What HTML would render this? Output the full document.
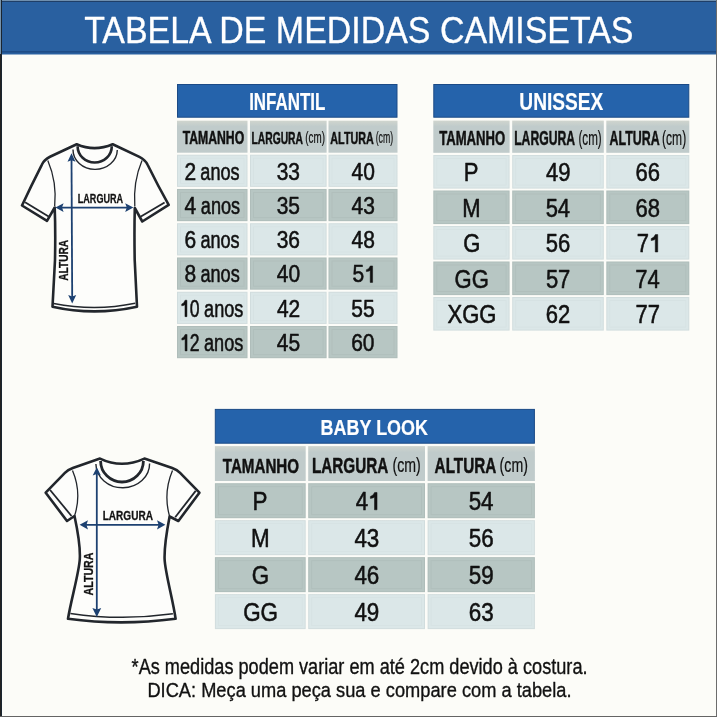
<!DOCTYPE html>
<html><head><meta charset="utf-8"><title>Tabela de Medidas Camisetas</title>
<style>
html,body{margin:0;padding:0;background:#fcfcf8;}
body{width:717px;height:717px;overflow:hidden;}
svg{display:block;font-family:"Liberation Sans",sans-serif;will-change:transform;}
</style></head><body>
<svg width="717" height="717" viewBox="0 0 717 717">
<defs>
<linearGradient id="gh" x1="0" y1="0" x2="0" y2="1"><stop offset="0" stop-color="#d0d5ce"/><stop offset="0.18" stop-color="#c0cbcb"/><stop offset="1" stop-color="#c0cbcb"/></linearGradient>
<linearGradient id="gl" x1="0" y1="0" x2="0" y2="1"><stop offset="0" stop-color="#dbe7e8"/><stop offset="1" stop-color="#dbe7e8"/></linearGradient>
<linearGradient id="gd" x1="0" y1="0" x2="0" y2="1"><stop offset="0" stop-color="#b7c6c3"/><stop offset="1" stop-color="#b7c6c3"/></linearGradient>
</defs>
<rect x="0" y="0" width="717" height="717" fill="#fcfcf8"/>
<rect x="0" y="0" width="717" height="54.5" fill="#2960a0"/>
<rect x="0" y="51" width="717" height="1.6" fill="#1e4c86"/>
<rect x="0" y="0" width="717" height="1" fill="#6f8fae"/>
<rect x="0" y="1" width="717" height="1" fill="#1f3f68"/>
<text transform="translate(84.136 42.6) scale(0.94086 1)" font-size="36.073" font-weight="normal" fill="#ffffff" stroke="#ffffff" stroke-width="0.3" stroke-linejoin="round">TABELA DE MEDIDAS CAMISETAS</text>
<rect x="177.5" y="84.5" width="219.5" height="32.7" fill="#2563ab" stroke="#1b4a86" stroke-width="1"/>
<text transform="translate(249.158 109.9) scale(0.69665 1)" font-size="24.291" font-weight="bold" fill="#ffffff" stroke="#ffffff" stroke-width="0.2" stroke-linejoin="round">INFANTIL</text>
<rect x="177" y="120.7" width="70.5" height="32" fill="url(#gh)"/>
<rect x="250" y="120.7" width="76.6" height="32" fill="url(#gh)"/>
<rect x="328.5" y="120.7" width="69" height="32" fill="url(#gh)"/>
<rect x="177" y="154.7" width="70.5" height="32.2" fill="url(#gl)"/>
<rect x="177.5" y="155.2" width="69.5" height="31.2" fill="none" stroke="#000" stroke-opacity="0.045"/>
<rect x="180.5" y="158.2" width="63.5" height="25.2" fill="none" stroke="#000" stroke-opacity="0.02"/>
<rect x="250" y="154.7" width="76.6" height="32.2" fill="url(#gl)"/>
<rect x="250.5" y="155.2" width="75.6" height="31.2" fill="none" stroke="#000" stroke-opacity="0.045"/>
<rect x="253.5" y="158.2" width="69.6" height="25.2" fill="none" stroke="#000" stroke-opacity="0.02"/>
<rect x="328.5" y="154.7" width="69" height="32.2" fill="url(#gl)"/>
<rect x="329" y="155.2" width="68" height="31.2" fill="none" stroke="#000" stroke-opacity="0.045"/>
<rect x="332" y="158.2" width="62" height="25.2" fill="none" stroke="#000" stroke-opacity="0.02"/>
<rect x="177" y="188.96" width="70.5" height="32.2" fill="url(#gd)"/>
<rect x="177.5" y="189.46" width="69.5" height="31.2" fill="none" stroke="#000" stroke-opacity="0.045"/>
<rect x="180.5" y="192.46" width="63.5" height="25.2" fill="none" stroke="#000" stroke-opacity="0.035"/>
<rect x="250" y="188.96" width="76.6" height="32.2" fill="url(#gd)"/>
<rect x="250.5" y="189.46" width="75.6" height="31.2" fill="none" stroke="#000" stroke-opacity="0.045"/>
<rect x="253.5" y="192.46" width="69.6" height="25.2" fill="none" stroke="#000" stroke-opacity="0.035"/>
<rect x="328.5" y="188.96" width="69" height="32.2" fill="url(#gd)"/>
<rect x="329" y="189.46" width="68" height="31.2" fill="none" stroke="#000" stroke-opacity="0.045"/>
<rect x="332" y="192.46" width="62" height="25.2" fill="none" stroke="#000" stroke-opacity="0.035"/>
<rect x="177" y="223.22" width="70.5" height="32.2" fill="url(#gl)"/>
<rect x="177.5" y="223.72" width="69.5" height="31.2" fill="none" stroke="#000" stroke-opacity="0.045"/>
<rect x="180.5" y="226.72" width="63.5" height="25.2" fill="none" stroke="#000" stroke-opacity="0.02"/>
<rect x="250" y="223.22" width="76.6" height="32.2" fill="url(#gl)"/>
<rect x="250.5" y="223.72" width="75.6" height="31.2" fill="none" stroke="#000" stroke-opacity="0.045"/>
<rect x="253.5" y="226.72" width="69.6" height="25.2" fill="none" stroke="#000" stroke-opacity="0.02"/>
<rect x="328.5" y="223.22" width="69" height="32.2" fill="url(#gl)"/>
<rect x="329" y="223.72" width="68" height="31.2" fill="none" stroke="#000" stroke-opacity="0.045"/>
<rect x="332" y="226.72" width="62" height="25.2" fill="none" stroke="#000" stroke-opacity="0.02"/>
<rect x="177" y="257.48" width="70.5" height="32.2" fill="url(#gd)"/>
<rect x="177.5" y="257.98" width="69.5" height="31.2" fill="none" stroke="#000" stroke-opacity="0.045"/>
<rect x="180.5" y="260.98" width="63.5" height="25.2" fill="none" stroke="#000" stroke-opacity="0.035"/>
<rect x="250" y="257.48" width="76.6" height="32.2" fill="url(#gd)"/>
<rect x="250.5" y="257.98" width="75.6" height="31.2" fill="none" stroke="#000" stroke-opacity="0.045"/>
<rect x="253.5" y="260.98" width="69.6" height="25.2" fill="none" stroke="#000" stroke-opacity="0.035"/>
<rect x="328.5" y="257.48" width="69" height="32.2" fill="url(#gd)"/>
<rect x="329" y="257.98" width="68" height="31.2" fill="none" stroke="#000" stroke-opacity="0.045"/>
<rect x="332" y="260.98" width="62" height="25.2" fill="none" stroke="#000" stroke-opacity="0.035"/>
<rect x="177" y="291.74" width="70.5" height="32.2" fill="url(#gl)"/>
<rect x="177.5" y="292.24" width="69.5" height="31.2" fill="none" stroke="#000" stroke-opacity="0.045"/>
<rect x="180.5" y="295.24" width="63.5" height="25.2" fill="none" stroke="#000" stroke-opacity="0.02"/>
<rect x="250" y="291.74" width="76.6" height="32.2" fill="url(#gl)"/>
<rect x="250.5" y="292.24" width="75.6" height="31.2" fill="none" stroke="#000" stroke-opacity="0.045"/>
<rect x="253.5" y="295.24" width="69.6" height="25.2" fill="none" stroke="#000" stroke-opacity="0.02"/>
<rect x="328.5" y="291.74" width="69" height="32.2" fill="url(#gl)"/>
<rect x="329" y="292.24" width="68" height="31.2" fill="none" stroke="#000" stroke-opacity="0.045"/>
<rect x="332" y="295.24" width="62" height="25.2" fill="none" stroke="#000" stroke-opacity="0.02"/>
<rect x="177" y="326" width="70.5" height="32.2" fill="url(#gd)"/>
<rect x="177.5" y="326.5" width="69.5" height="31.2" fill="none" stroke="#000" stroke-opacity="0.045"/>
<rect x="180.5" y="329.5" width="63.5" height="25.2" fill="none" stroke="#000" stroke-opacity="0.035"/>
<rect x="250" y="326" width="76.6" height="32.2" fill="url(#gd)"/>
<rect x="250.5" y="326.5" width="75.6" height="31.2" fill="none" stroke="#000" stroke-opacity="0.045"/>
<rect x="253.5" y="329.5" width="69.6" height="25.2" fill="none" stroke="#000" stroke-opacity="0.035"/>
<rect x="328.5" y="326" width="69" height="32.2" fill="url(#gd)"/>
<rect x="329" y="326.5" width="68" height="31.2" fill="none" stroke="#000" stroke-opacity="0.045"/>
<rect x="332" y="329.5" width="62" height="25.2" fill="none" stroke="#000" stroke-opacity="0.035"/>
<text transform="translate(182.678 143.8) scale(0.68318 1)" font-size="17.891" font-weight="bold" fill="#111111" stroke="#111111" stroke-width="0.5" stroke-linejoin="round">TAMANHO</text>
<text transform="translate(251.505 143.6) scale(0.59481 1)" font-size="17.309" font-weight="bold" fill="#111111" stroke="#111111" stroke-width="0.5" stroke-linejoin="round">LARGURA</text>
<text transform="translate(305.286 143.44) scale(0.60683 1)" font-size="16.193" font-weight="normal" fill="#111111" stroke="#111111" stroke-width="0.2" stroke-linejoin="round">(cm)</text>
<text transform="translate(330.331 143.6) scale(0.62195 1)" font-size="17.309" font-weight="bold" fill="#111111" stroke="#111111" stroke-width="0.5" stroke-linejoin="round">ALTURA</text>
<text transform="translate(375.653 143.44) scale(0.54087 1)" font-size="16.193" font-weight="normal" fill="#111111" stroke="#111111" stroke-width="0.2" stroke-linejoin="round">(cm)</text>
<text transform="translate(184.479 179.6) scale(0.88 1)" font-size="23.855" font-weight="normal" fill="#111111" stroke="#111111" stroke-width="0.55" stroke-linejoin="round">2</text><text transform="translate(200.31 179.6) scale(0.76 1)" font-size="23.855" font-weight="normal" fill="#111111" stroke="#111111" stroke-width="0.55" stroke-linejoin="round">anos</text>
<text transform="translate(276.69 179.6) scale(0.88 1)" font-size="23.855" font-weight="normal" fill="#111111" stroke="#111111" stroke-width="0.55" stroke-linejoin="round">33</text>
<text transform="translate(351.495 179.6) scale(0.88 1)" font-size="23.855" font-weight="normal" fill="#111111" stroke="#111111" stroke-width="0.55" stroke-linejoin="round">40</text>
<text transform="translate(184.532 213.86) scale(0.88 1)" font-size="23.855" font-weight="normal" fill="#111111" stroke="#111111" stroke-width="0.55" stroke-linejoin="round">4</text><text transform="translate(200.835 213.86) scale(0.76 1)" font-size="23.855" font-weight="normal" fill="#111111" stroke="#111111" stroke-width="0.55" stroke-linejoin="round">anos</text>
<text transform="translate(276.663 213.86) scale(0.88 1)" font-size="23.855" font-weight="normal" fill="#111111" stroke="#111111" stroke-width="0.55" stroke-linejoin="round">35</text>
<text transform="translate(351.547 213.86) scale(0.88 1)" font-size="23.855" font-weight="normal" fill="#111111" stroke="#111111" stroke-width="0.55" stroke-linejoin="round">43</text>
<text transform="translate(184.401 248.12) scale(0.88 1)" font-size="23.855" font-weight="normal" fill="#111111" stroke="#111111" stroke-width="0.55" stroke-linejoin="round">6</text><text transform="translate(200.389 248.12) scale(0.76 1)" font-size="23.855" font-weight="normal" fill="#111111" stroke="#111111" stroke-width="0.55" stroke-linejoin="round">anos</text>
<text transform="translate(276.69 248.12) scale(0.88 1)" font-size="23.855" font-weight="normal" fill="#111111" stroke="#111111" stroke-width="0.55" stroke-linejoin="round">36</text>
<text transform="translate(351.547 248.12) scale(0.88 1)" font-size="23.855" font-weight="normal" fill="#111111" stroke="#111111" stroke-width="0.55" stroke-linejoin="round">48</text>
<text transform="translate(184.479 282.38) scale(0.88 1)" font-size="23.855" font-weight="normal" fill="#111111" stroke="#111111" stroke-width="0.55" stroke-linejoin="round">8</text><text transform="translate(200.467 282.38) scale(0.76 1)" font-size="23.855" font-weight="normal" fill="#111111" stroke="#111111" stroke-width="0.55" stroke-linejoin="round">anos</text>
<text transform="translate(276.795 282.38) scale(0.88 1)" font-size="23.855" font-weight="normal" fill="#111111" stroke="#111111" stroke-width="0.55" stroke-linejoin="round">40</text>
<text transform="translate(352.581 282.38) scale(0.88 1)" font-size="23.855" font-weight="normal" fill="#111111" stroke="#111111" stroke-width="0.55" stroke-linejoin="round">5</text><path transform="translate(364.256 282.38) scale(0.01025 -0.01165)" d="M812,0 L582,0 L582,1030 Q470,955 205,925 L205,1085 Q470,1135 592,1409 L812,1409 Z" fill="#111111" stroke="#111111" stroke-width="47.22" stroke-linejoin="round"/>
<path transform="translate(179.956 316.64) scale(0.00861 -0.01165)" d="M812,0 L582,0 L582,1030 Q470,955 205,925 L205,1085 Q470,1135 592,1409 L812,1409 Z" fill="#111111" stroke="#111111" stroke-width="47.22" stroke-linejoin="round"/><text transform="translate(189.763 316.64) scale(0.7392 1)" font-size="23.855" font-weight="normal" fill="#111111" stroke="#111111" stroke-width="0.55" stroke-linejoin="round">0</text><text transform="translate(204.118 316.64) scale(0.76 1)" font-size="23.855" font-weight="normal" fill="#111111" stroke="#111111" stroke-width="0.55" stroke-linejoin="round">anos</text>
<text transform="translate(276.926 316.64) scale(0.88 1)" font-size="23.855" font-weight="normal" fill="#111111" stroke="#111111" stroke-width="0.55" stroke-linejoin="round">42</text>
<text transform="translate(351.337 316.64) scale(0.88 1)" font-size="23.855" font-weight="normal" fill="#111111" stroke="#111111" stroke-width="0.55" stroke-linejoin="round">55</text>
<path transform="translate(180.066 350.9) scale(0.00861 -0.01165)" d="M812,0 L582,0 L582,1030 Q470,955 205,925 L205,1085 Q470,1135 592,1409 L812,1409 Z" fill="#111111" stroke="#111111" stroke-width="47.22" stroke-linejoin="round"/><text transform="translate(189.873 350.9) scale(0.7392 1)" font-size="23.855" font-weight="normal" fill="#111111" stroke="#111111" stroke-width="0.55" stroke-linejoin="round">2</text><text transform="translate(204.008 350.9) scale(0.76 1)" font-size="23.855" font-weight="normal" fill="#111111" stroke="#111111" stroke-width="0.55" stroke-linejoin="round">anos</text>
<text transform="translate(276.821 350.9) scale(0.88 1)" font-size="23.855" font-weight="normal" fill="#111111" stroke="#111111" stroke-width="0.55" stroke-linejoin="round">45</text>
<text transform="translate(351.206 350.9) scale(0.88 1)" font-size="23.855" font-weight="normal" fill="#111111" stroke="#111111" stroke-width="0.55" stroke-linejoin="round">60</text>
<rect x="433.8" y="84.5" width="255" height="32.7" fill="#2563ab" stroke="#1b4a86" stroke-width="1"/>
<text transform="translate(519.351 110.1) scale(0.77419 1)" font-size="24.727" font-weight="bold" fill="#ffffff" stroke="#ffffff" stroke-width="0.2" stroke-linejoin="round">UNISSEX</text>
<rect x="433.3" y="120.6" width="76.3" height="32.2" fill="url(#gh)"/>
<rect x="512.2" y="120.6" width="91.6" height="32.2" fill="url(#gh)"/>
<rect x="606.3" y="120.6" width="83" height="32.2" fill="url(#gh)"/>
<rect x="433.3" y="155" width="76.3" height="33.6" fill="url(#gl)"/>
<rect x="433.8" y="155.5" width="75.3" height="32.6" fill="none" stroke="#000" stroke-opacity="0.045"/>
<rect x="436.8" y="158.5" width="69.3" height="26.6" fill="none" stroke="#000" stroke-opacity="0.02"/>
<rect x="512.2" y="155" width="91.6" height="33.6" fill="url(#gl)"/>
<rect x="512.7" y="155.5" width="90.6" height="32.6" fill="none" stroke="#000" stroke-opacity="0.045"/>
<rect x="515.7" y="158.5" width="84.6" height="26.6" fill="none" stroke="#000" stroke-opacity="0.02"/>
<rect x="606.3" y="155" width="83" height="33.6" fill="url(#gl)"/>
<rect x="606.8" y="155.5" width="82" height="32.6" fill="none" stroke="#000" stroke-opacity="0.045"/>
<rect x="609.8" y="158.5" width="76" height="26.6" fill="none" stroke="#000" stroke-opacity="0.02"/>
<rect x="433.3" y="190.5" width="76.3" height="33.6" fill="url(#gd)"/>
<rect x="433.8" y="191" width="75.3" height="32.6" fill="none" stroke="#000" stroke-opacity="0.045"/>
<rect x="436.8" y="194" width="69.3" height="26.6" fill="none" stroke="#000" stroke-opacity="0.035"/>
<rect x="512.2" y="190.5" width="91.6" height="33.6" fill="url(#gd)"/>
<rect x="512.7" y="191" width="90.6" height="32.6" fill="none" stroke="#000" stroke-opacity="0.045"/>
<rect x="515.7" y="194" width="84.6" height="26.6" fill="none" stroke="#000" stroke-opacity="0.035"/>
<rect x="606.3" y="190.5" width="83" height="33.6" fill="url(#gd)"/>
<rect x="606.8" y="191" width="82" height="32.6" fill="none" stroke="#000" stroke-opacity="0.045"/>
<rect x="609.8" y="194" width="76" height="26.6" fill="none" stroke="#000" stroke-opacity="0.035"/>
<rect x="433.3" y="226" width="76.3" height="33.6" fill="url(#gl)"/>
<rect x="433.8" y="226.5" width="75.3" height="32.6" fill="none" stroke="#000" stroke-opacity="0.045"/>
<rect x="436.8" y="229.5" width="69.3" height="26.6" fill="none" stroke="#000" stroke-opacity="0.02"/>
<rect x="512.2" y="226" width="91.6" height="33.6" fill="url(#gl)"/>
<rect x="512.7" y="226.5" width="90.6" height="32.6" fill="none" stroke="#000" stroke-opacity="0.045"/>
<rect x="515.7" y="229.5" width="84.6" height="26.6" fill="none" stroke="#000" stroke-opacity="0.02"/>
<rect x="606.3" y="226" width="83" height="33.6" fill="url(#gl)"/>
<rect x="606.8" y="226.5" width="82" height="32.6" fill="none" stroke="#000" stroke-opacity="0.045"/>
<rect x="609.8" y="229.5" width="76" height="26.6" fill="none" stroke="#000" stroke-opacity="0.02"/>
<rect x="433.3" y="261.5" width="76.3" height="33.6" fill="url(#gd)"/>
<rect x="433.8" y="262" width="75.3" height="32.6" fill="none" stroke="#000" stroke-opacity="0.045"/>
<rect x="436.8" y="265" width="69.3" height="26.6" fill="none" stroke="#000" stroke-opacity="0.035"/>
<rect x="512.2" y="261.5" width="91.6" height="33.6" fill="url(#gd)"/>
<rect x="512.7" y="262" width="90.6" height="32.6" fill="none" stroke="#000" stroke-opacity="0.045"/>
<rect x="515.7" y="265" width="84.6" height="26.6" fill="none" stroke="#000" stroke-opacity="0.035"/>
<rect x="606.3" y="261.5" width="83" height="33.6" fill="url(#gd)"/>
<rect x="606.8" y="262" width="82" height="32.6" fill="none" stroke="#000" stroke-opacity="0.045"/>
<rect x="609.8" y="265" width="76" height="26.6" fill="none" stroke="#000" stroke-opacity="0.035"/>
<rect x="433.3" y="297" width="76.3" height="33.6" fill="url(#gl)"/>
<rect x="433.8" y="297.5" width="75.3" height="32.6" fill="none" stroke="#000" stroke-opacity="0.045"/>
<rect x="436.8" y="300.5" width="69.3" height="26.6" fill="none" stroke="#000" stroke-opacity="0.02"/>
<rect x="512.2" y="297" width="91.6" height="33.6" fill="url(#gl)"/>
<rect x="512.7" y="297.5" width="90.6" height="32.6" fill="none" stroke="#000" stroke-opacity="0.045"/>
<rect x="515.7" y="300.5" width="84.6" height="26.6" fill="none" stroke="#000" stroke-opacity="0.02"/>
<rect x="606.3" y="297" width="83" height="33.6" fill="url(#gl)"/>
<rect x="606.8" y="297.5" width="82" height="32.6" fill="none" stroke="#000" stroke-opacity="0.045"/>
<rect x="609.8" y="300.5" width="76" height="26.6" fill="none" stroke="#000" stroke-opacity="0.02"/>
<text transform="translate(439.169 145.2) scale(0.67241 1)" font-size="19.491" font-weight="bold" fill="#111111" stroke="#111111" stroke-width="0.5" stroke-linejoin="round">TAMANHO</text>
<text transform="translate(514.177 145.2) scale(0.61181 1)" font-size="19.927" font-weight="bold" fill="#111111" stroke="#111111" stroke-width="0.5" stroke-linejoin="round">LARGURA</text>
<text transform="translate(578.472 145.35) scale(0.5965 1)" font-size="19.517" font-weight="normal" fill="#111111" stroke="#111111" stroke-width="0.2" stroke-linejoin="round">(cm)</text>
<text transform="translate(609.589 145.2) scale(0.62335 1)" font-size="19.927" font-weight="bold" fill="#111111" stroke="#111111" stroke-width="0.5" stroke-linejoin="round">ALTURA</text>
<text transform="translate(662.046 145.35) scale(0.61839 1)" font-size="19.517" font-weight="normal" fill="#111111" stroke="#111111" stroke-width="0.2" stroke-linejoin="round">(cm)</text>
<text transform="translate(463.771 181) scale(0.87 1)" font-size="25.309" font-weight="normal" fill="#111111" stroke="#111111" stroke-width="0.55" stroke-linejoin="round">P</text>
<text transform="translate(546.014 181) scale(0.87 1)" font-size="25.309" font-weight="normal" fill="#111111" stroke="#111111" stroke-width="0.55" stroke-linejoin="round">49</text>
<text transform="translate(635.484 181) scale(0.87 1)" font-size="25.309" font-weight="normal" fill="#111111" stroke="#111111" stroke-width="0.55" stroke-linejoin="round">66</text>
<text transform="translate(462.285 216.5) scale(0.87 1)" font-size="25.309" font-weight="normal" fill="#111111" stroke="#111111" stroke-width="0.55" stroke-linejoin="round">M</text>
<text transform="translate(545.629 216.5) scale(0.87 1)" font-size="25.309" font-weight="normal" fill="#111111" stroke="#111111" stroke-width="0.55" stroke-linejoin="round">54</text>
<text transform="translate(635.484 216.5) scale(0.87 1)" font-size="25.309" font-weight="normal" fill="#111111" stroke="#111111" stroke-width="0.55" stroke-linejoin="round">68</text>
<text transform="translate(463.165 252) scale(0.87 1)" font-size="25.309" font-weight="normal" fill="#111111" stroke="#111111" stroke-width="0.55" stroke-linejoin="round">G</text>
<text transform="translate(545.794 252) scale(0.87 1)" font-size="25.309" font-weight="normal" fill="#111111" stroke="#111111" stroke-width="0.55" stroke-linejoin="round">56</text>
<text transform="translate(636.761 252) scale(0.87 1)" font-size="25.309" font-weight="normal" fill="#111111" stroke="#111111" stroke-width="0.55" stroke-linejoin="round">7</text><path transform="translate(649.008 252) scale(0.01075 -0.01236)" d="M812,0 L582,0 L582,1030 Q470,955 205,925 L205,1085 Q470,1135 592,1409 L812,1409 Z" fill="#111111" stroke="#111111" stroke-width="44.506" stroke-linejoin="round"/>
<text transform="translate(454.602 287.5) scale(0.87 1)" font-size="25.309" font-weight="normal" fill="#111111" stroke="#111111" stroke-width="0.55" stroke-linejoin="round">GG</text>
<text transform="translate(545.877 287.5) scale(0.87 1)" font-size="25.309" font-weight="normal" fill="#111111" stroke="#111111" stroke-width="0.55" stroke-linejoin="round">57</text>
<text transform="translate(635.319 287.5) scale(0.87 1)" font-size="25.309" font-weight="normal" fill="#111111" stroke="#111111" stroke-width="0.55" stroke-linejoin="round">74</text>
<text transform="translate(447.561 323) scale(0.87 1)" font-size="25.309" font-weight="normal" fill="#111111" stroke="#111111" stroke-width="0.55" stroke-linejoin="round">XGG</text>
<text transform="translate(545.767 323) scale(0.87 1)" font-size="25.309" font-weight="normal" fill="#111111" stroke="#111111" stroke-width="0.55" stroke-linejoin="round">62</text>
<text transform="translate(635.567 323) scale(0.87 1)" font-size="25.309" font-weight="normal" fill="#111111" stroke="#111111" stroke-width="0.55" stroke-linejoin="round">77</text>
<rect x="215.3" y="409.4" width="319.1" height="33.8" fill="#2563ab" stroke="#1b4a86" stroke-width="1"/>
<text transform="translate(320.587 434.5) scale(0.80213 1)" font-size="22.4" font-weight="bold" fill="#ffffff" stroke="#ffffff" stroke-width="0.2" stroke-linejoin="round">BABY LOOK</text>
<rect x="214.9" y="446.1" width="90.8" height="34.9" fill="url(#gh)"/>
<rect x="308.2" y="446.1" width="116.8" height="34.9" fill="url(#gh)"/>
<rect x="427.6" y="446.1" width="107.3" height="34.9" fill="url(#gh)"/>
<rect x="214.9" y="483.2" width="90.8" height="35" fill="url(#gd)"/>
<rect x="215.4" y="483.7" width="89.8" height="34" fill="none" stroke="#000" stroke-opacity="0.045"/>
<rect x="218.4" y="486.7" width="83.8" height="28" fill="none" stroke="#000" stroke-opacity="0.035"/>
<rect x="308.2" y="483.2" width="116.8" height="35" fill="url(#gd)"/>
<rect x="308.7" y="483.7" width="115.8" height="34" fill="none" stroke="#000" stroke-opacity="0.045"/>
<rect x="311.7" y="486.7" width="109.8" height="28" fill="none" stroke="#000" stroke-opacity="0.035"/>
<rect x="427.6" y="483.2" width="107.3" height="35" fill="url(#gd)"/>
<rect x="428.1" y="483.7" width="106.3" height="34" fill="none" stroke="#000" stroke-opacity="0.045"/>
<rect x="431.1" y="486.7" width="100.3" height="28" fill="none" stroke="#000" stroke-opacity="0.035"/>
<rect x="214.9" y="520.17" width="90.8" height="35" fill="url(#gl)"/>
<rect x="215.4" y="520.67" width="89.8" height="34" fill="none" stroke="#000" stroke-opacity="0.045"/>
<rect x="218.4" y="523.67" width="83.8" height="28" fill="none" stroke="#000" stroke-opacity="0.02"/>
<rect x="308.2" y="520.17" width="116.8" height="35" fill="url(#gl)"/>
<rect x="308.7" y="520.67" width="115.8" height="34" fill="none" stroke="#000" stroke-opacity="0.045"/>
<rect x="311.7" y="523.67" width="109.8" height="28" fill="none" stroke="#000" stroke-opacity="0.02"/>
<rect x="427.6" y="520.17" width="107.3" height="35" fill="url(#gl)"/>
<rect x="428.1" y="520.67" width="106.3" height="34" fill="none" stroke="#000" stroke-opacity="0.045"/>
<rect x="431.1" y="523.67" width="100.3" height="28" fill="none" stroke="#000" stroke-opacity="0.02"/>
<rect x="214.9" y="557.14" width="90.8" height="35" fill="url(#gd)"/>
<rect x="215.4" y="557.64" width="89.8" height="34" fill="none" stroke="#000" stroke-opacity="0.045"/>
<rect x="218.4" y="560.64" width="83.8" height="28" fill="none" stroke="#000" stroke-opacity="0.035"/>
<rect x="308.2" y="557.14" width="116.8" height="35" fill="url(#gd)"/>
<rect x="308.7" y="557.64" width="115.8" height="34" fill="none" stroke="#000" stroke-opacity="0.045"/>
<rect x="311.7" y="560.64" width="109.8" height="28" fill="none" stroke="#000" stroke-opacity="0.035"/>
<rect x="427.6" y="557.14" width="107.3" height="35" fill="url(#gd)"/>
<rect x="428.1" y="557.64" width="106.3" height="34" fill="none" stroke="#000" stroke-opacity="0.045"/>
<rect x="431.1" y="560.64" width="100.3" height="28" fill="none" stroke="#000" stroke-opacity="0.035"/>
<rect x="214.9" y="594.11" width="90.8" height="35" fill="url(#gl)"/>
<rect x="215.4" y="594.61" width="89.8" height="34" fill="none" stroke="#000" stroke-opacity="0.045"/>
<rect x="218.4" y="597.61" width="83.8" height="28" fill="none" stroke="#000" stroke-opacity="0.02"/>
<rect x="308.2" y="594.11" width="116.8" height="35" fill="url(#gl)"/>
<rect x="308.7" y="594.61" width="115.8" height="34" fill="none" stroke="#000" stroke-opacity="0.045"/>
<rect x="311.7" y="597.61" width="109.8" height="28" fill="none" stroke="#000" stroke-opacity="0.02"/>
<rect x="427.6" y="594.11" width="107.3" height="35" fill="url(#gl)"/>
<rect x="428.1" y="594.61" width="106.3" height="34" fill="none" stroke="#000" stroke-opacity="0.045"/>
<rect x="431.1" y="597.61" width="100.3" height="28" fill="none" stroke="#000" stroke-opacity="0.02"/>
<text transform="translate(222.748 472.9) scale(0.71846 1)" font-size="21.091" font-weight="bold" fill="#111111" stroke="#111111" stroke-width="0.5" stroke-linejoin="round">TAMANHO</text>
<text transform="translate(311.971 472.5) scale(0.71321 1)" font-size="21.382" font-weight="bold" fill="#111111" stroke="#111111" stroke-width="0.5" stroke-linejoin="round">LARGURA</text>
<text transform="translate(392.515 472.361) scale(0.70951 1)" font-size="19.946" font-weight="normal" fill="#111111" stroke="#111111" stroke-width="0.2" stroke-linejoin="round">(cm)</text>
<text transform="translate(434.618 472.5) scale(0.71473 1)" font-size="21.382" font-weight="bold" fill="#111111" stroke="#111111" stroke-width="0.5" stroke-linejoin="round">ALTURA</text>
<text transform="translate(499.615 472.361) scale(0.70951 1)" font-size="19.946" font-weight="normal" fill="#111111" stroke="#111111" stroke-width="0.2" stroke-linejoin="round">(cm)</text>
<text transform="translate(252.49 509.8) scale(0.89 1)" font-size="25.164" font-weight="normal" fill="#111111" stroke="#111111" stroke-width="0.55" stroke-linejoin="round">P</text>
<text transform="translate(355.68 509.8) scale(0.89 1)" font-size="25.164" font-weight="normal" fill="#111111" stroke="#111111" stroke-width="0.55" stroke-linejoin="round">4</text><path transform="translate(368.136 509.8) scale(0.01094 -0.01229)" d="M812,0 L582,0 L582,1030 Q470,955 205,925 L205,1085 Q470,1135 592,1409 L812,1409 Z" fill="#111111" stroke="#111111" stroke-width="44.763" stroke-linejoin="round"/>
<text transform="translate(468.667 509.8) scale(0.89 1)" font-size="25.164" font-weight="normal" fill="#111111" stroke="#111111" stroke-width="0.55" stroke-linejoin="round">54</text>
<text transform="translate(250.978 546.77) scale(0.89 1)" font-size="25.164" font-weight="normal" fill="#111111" stroke="#111111" stroke-width="0.55" stroke-linejoin="round">M</text>
<text transform="translate(354.381 546.77) scale(0.89 1)" font-size="25.164" font-weight="normal" fill="#111111" stroke="#111111" stroke-width="0.55" stroke-linejoin="round">43</text>
<text transform="translate(468.835 546.77) scale(0.89 1)" font-size="25.164" font-weight="normal" fill="#111111" stroke="#111111" stroke-width="0.55" stroke-linejoin="round">56</text>
<text transform="translate(251.874 583.74) scale(0.89 1)" font-size="25.164" font-weight="normal" fill="#111111" stroke="#111111" stroke-width="0.55" stroke-linejoin="round">G</text>
<text transform="translate(354.381 583.74) scale(0.89 1)" font-size="25.164" font-weight="normal" fill="#111111" stroke="#111111" stroke-width="0.55" stroke-linejoin="round">46</text>
<text transform="translate(468.863 583.74) scale(0.89 1)" font-size="25.164" font-weight="normal" fill="#111111" stroke="#111111" stroke-width="0.55" stroke-linejoin="round">59</text>
<text transform="translate(243.163 620.71) scale(0.89 1)" font-size="25.164" font-weight="normal" fill="#111111" stroke="#111111" stroke-width="0.55" stroke-linejoin="round">GG</text>
<text transform="translate(354.409 620.71) scale(0.89 1)" font-size="25.164" font-weight="normal" fill="#111111" stroke="#111111" stroke-width="0.55" stroke-linejoin="round">49</text>
<text transform="translate(468.723 620.71) scale(0.89 1)" font-size="25.164" font-weight="normal" fill="#111111" stroke="#111111" stroke-width="0.55" stroke-linejoin="round">63</text>
<path d="M76.7,144.3 L50,156.8 Q44.2,159.6 41.8,164.8 Q31,186 22,205.5 L47,220.8 L54.7,207.5 Q55.6,230 55,260 L52.5,306.7 Q94,316 137,306.7 L134.7,260 Q134.2,230 134.8,208 L142.3,221.5 L168.7,204.8 Q158,186 147.6,164.8 Q145.2,159.6 139.4,156.8 L112.7,144.3 Q94.3,152 76.7,144.3 Z" fill="#fdfdfb" stroke="#22262c" stroke-width="2.6" stroke-linejoin="round"/>
<path d="M47.8,160.5 Q57,182 54.7,206" fill="none" stroke="#22262c" stroke-width="1.3"/>
<path d="M142,160.5 Q133,182 134.8,206.5" fill="none" stroke="#22262c" stroke-width="1.3"/>
<path d="M25.1,202.3 L48.6,216.5" fill="none" stroke="#22262c" stroke-width="1.8"/>
<path d="M164.6,202.4 L140.9,216.6" fill="none" stroke="#22262c" stroke-width="1.8"/>
<path d="M53.6,303.4 Q95,311.5 135.2,303.2" fill="none" stroke="#22262c" stroke-width="1.5"/>
<path d="M77.6,146.2 A16.8 16 0 0 0 111.8,146.2" fill="none" stroke="#22262c" stroke-width="2.6"/>
<path d="M73,149.5 A22 19.5 0 0 0 117.3,150" fill="none" stroke="#22262c" stroke-width="1.4"/>
<path d="M71.5,158 L72.2,298" stroke="#1d4171" stroke-width="1.8"/>
<path d="M71.5,153.2 L75.5,161.8 L71.5,160.2 L67.5,161.8 Z" fill="#1d4171"/>
<path d="M72.2,303.5 L68.2,294.9 L72.2,296.5 L76.2,294.9 Z" fill="#1d4171"/>
<path d="M60,207.6 L128,207.6" stroke="#1d4171" stroke-width="1.8"/>
<path d="M55.4,207.6 L63.6,203.2 L62,207.6 L63.6,212 Z" fill="#1d4171"/>
<path d="M133.4,207.6 L125.2,212 L126.8,207.6 L125.2,203.2 Z" fill="#1d4171"/>
<text transform="translate(77.789 202.7) scale(0.69147 1)" font-size="13.091" font-weight="bold" fill="#111111" stroke="#111111" stroke-width="0.3" stroke-linejoin="round">LARGURA</text>
<text transform="translate(68.4 280.855) rotate(-90) scale(0.8439 1)" font-size="12.073" font-weight="bold" fill="#111111" stroke="#111111" stroke-width="0.3" stroke-linejoin="round">ALTURA</text>
<path d="M100,458.6 L72.8,468 Q67.8,469.8 64.9,472.8 L45.7,492.7 L67,521 L74.5,516 C77.5,530 80.5,546 79.8,559 C79.2,572 71,600 68,618.8 Q120.3,626 175.6,618.8 C173,600 165,572 164.6,559 C164.2,546 167,530 169.6,516.5 L178.4,521 L199.4,492.7 L180.1,472.8 Q177.2,469.8 172.2,468 L144.4,458.6 Q121.7,469 100,458.6 Z" fill="#fdfdfb" stroke="#22262c" stroke-width="2.6" stroke-linejoin="round"/>
<path d="M72.5,470.5 Q82,493 74.5,516" fill="none" stroke="#22262c" stroke-width="1.3"/>
<path d="M172.5,470.5 Q163,493 169.6,516.5" fill="none" stroke="#22262c" stroke-width="1.3"/>
<path d="M50.1,490 L71.5,516" fill="none" stroke="#22262c" stroke-width="1.8"/>
<path d="M195.7,490.9 L175.2,517.2" fill="none" stroke="#22262c" stroke-width="1.8"/>
<path d="M70.4,613.4 Q121,621 172.9,613.8" fill="none" stroke="#22262c" stroke-width="1.5"/>
<path d="M100.6,461 A21.2 20.8 0 0 0 143.4,461" fill="none" stroke="#22262c" stroke-width="2.8"/>
<path d="M95.9,464 A26.8 24 0 0 0 149.6,463.5" fill="none" stroke="#22262c" stroke-width="1.4"/>
<path d="M96.8,472 L96.8,611" stroke="#1d4171" stroke-width="1.8"/>
<path d="M96.8,467.2 L100.9,475.6 L96.8,474 L92.7,475.6 Z" fill="#1d4171"/>
<path d="M96.8,617 L92.4,608 L96.8,609.6 L101.2,608 Z" fill="#1d4171"/>
<path d="M85,524.8 L160,524.8" stroke="#1d4171" stroke-width="1.8"/>
<path d="M79.6,524.8 L88,520.2 L86.4,524.8 L88,529.4 Z" fill="#1d4171"/>
<path d="M165.4,524.8 L157,529.4 L158.6,524.8 L157,520.2 Z" fill="#1d4171"/>
<text transform="translate(102.722 519.7) scale(0.78523 1)" font-size="12.8" font-weight="bold" fill="#111111" stroke="#111111" stroke-width="0.3" stroke-linejoin="round">LARGURA</text>
<text transform="translate(93.4 595.567) rotate(-90) scale(0.87493 1)" font-size="12.218" font-weight="bold" fill="#111111" stroke="#111111" stroke-width="0.3" stroke-linejoin="round">ALTURA</text>
<text transform="translate(131.582 673.8) scale(0.849 1)" font-size="21.382" font-weight="normal" fill="#111111" stroke="#111111" stroke-width="0.35" stroke-linejoin="round">*As medidas podem variar em até 2cm devido à costura.</text>
<text transform="translate(147.393 697.2) scale(0.88423 1)" font-size="20.655" font-weight="normal" fill="#111111" stroke="#111111" stroke-width="0.35" stroke-linejoin="round">DICA: Meça uma peça sua e compare com a tabela.</text>
<rect x="0" y="0" width="1" height="54" fill="#7592ab"/>
<rect x="0" y="54" width="1" height="663" fill="#222"/>
<rect x="1" y="0" width="1" height="717" fill="#1a2530"/>
<rect x="716" y="0" width="1" height="717" fill="#6c6c6c"/>
<rect x="0" y="716" width="717" height="1" fill="#646464"/>
</svg>
</body></html>
